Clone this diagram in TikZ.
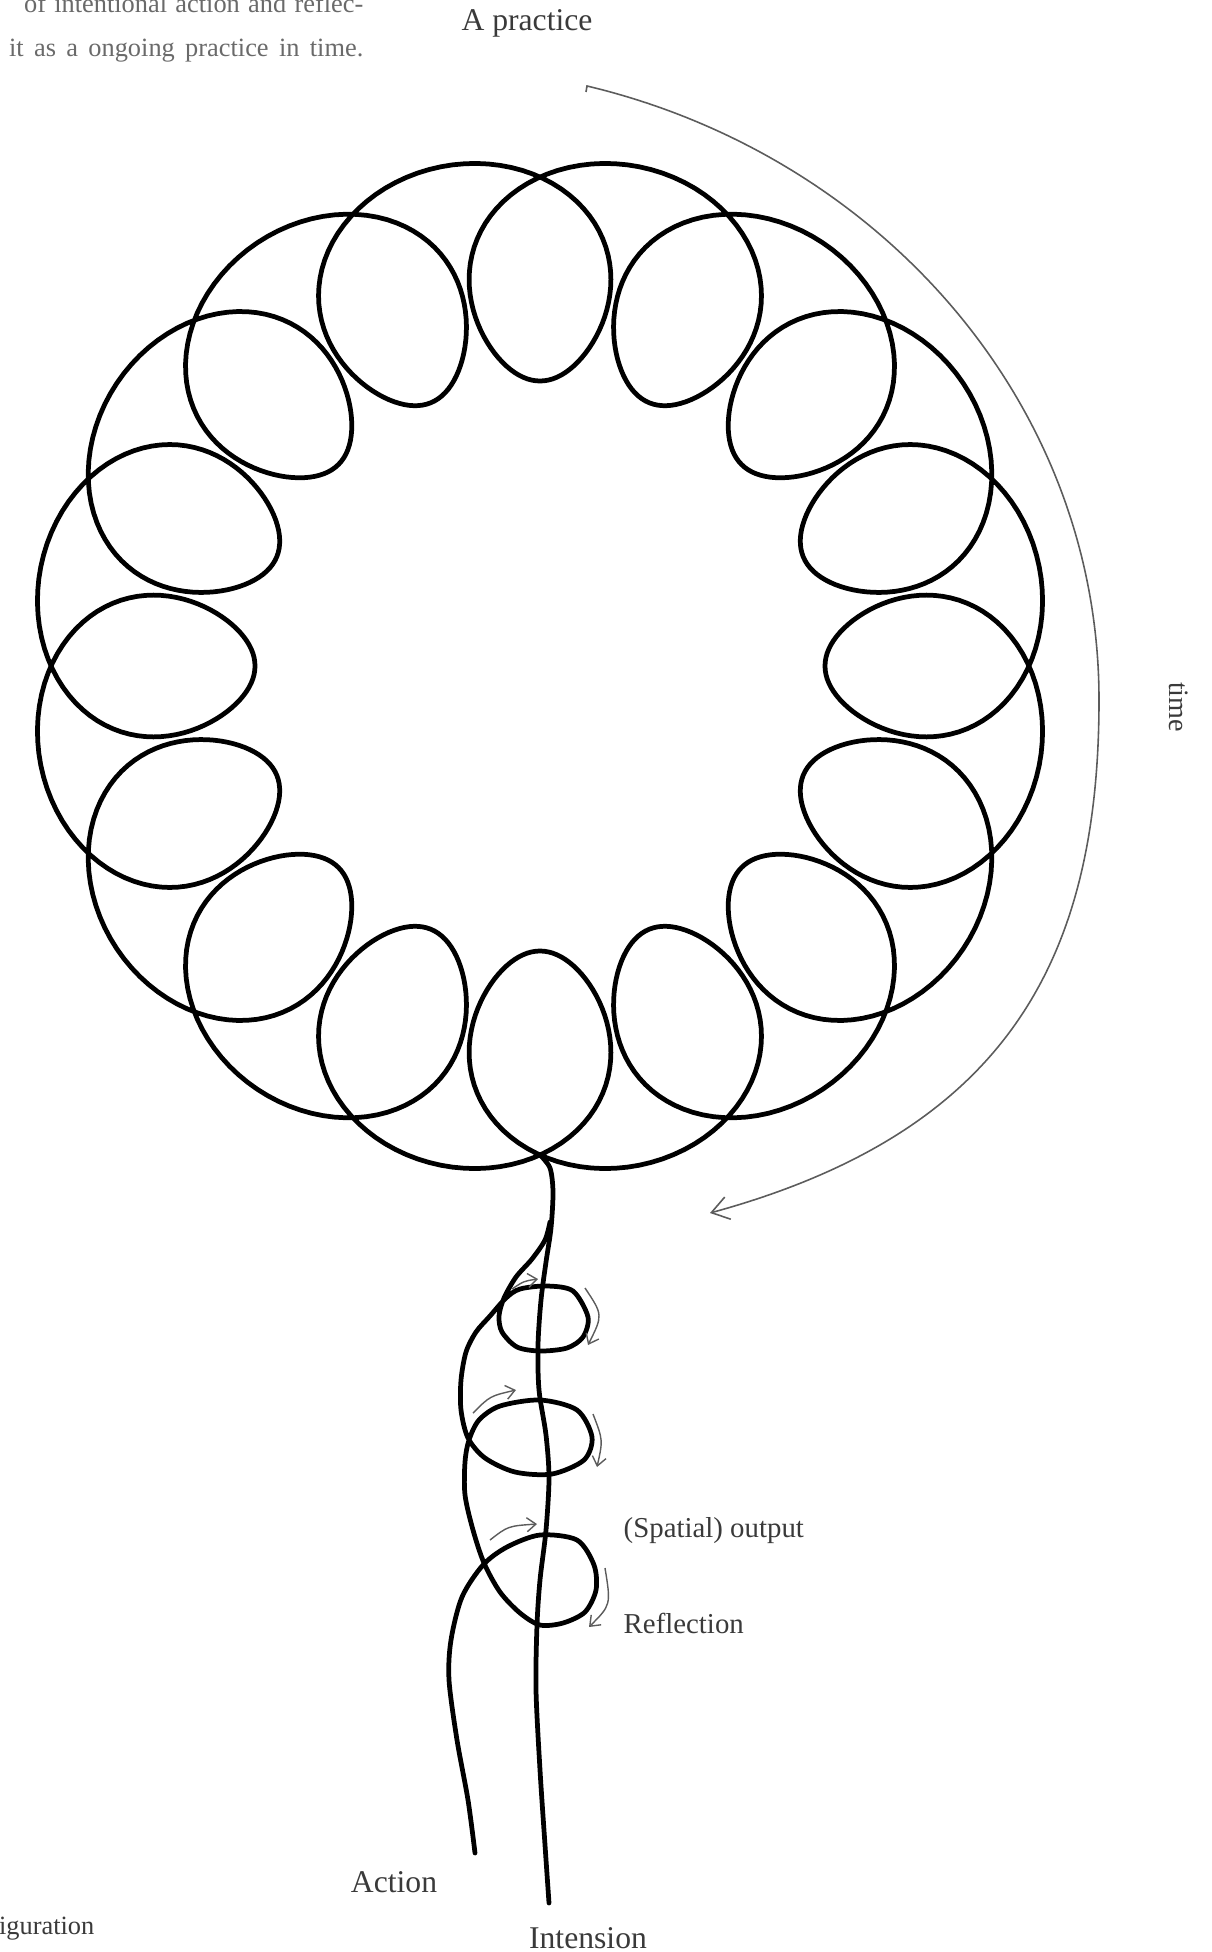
\documentclass[tikz,border=0pt]{standalone}
\usepackage{fontspec}
\setmainfont{Liberation Serif}
\usepackage{xcolor}
\usepackage{tikz}
\usetikzlibrary{arrows.meta}
\definecolor{inkgray}{HTML}{3A3A3A}
\definecolor{pengray}{HTML}{5C5C5C}
\definecolor{notegray}{HTML}{6A6A6A}

\begin{document}
\begin{tikzpicture}[x=0.01cm, y=-0.01cm,
    strand/.style={line width=1.35pt, line cap=round, line join=round},
    timearrow/.style={draw=pengray, line width=0.45pt, -{Straight Barb[length=1.7mm, width=2.3mm]}},
    cyclearrow/.style={draw=pengray, line width=0.4pt, -{Straight Barb[length=0.9mm, width=1.4mm]}},
    lbl/.style={font=\fontsize{9}{11}\selectfont, text=inkgray, inner sep=0pt},
    sidelbl/.style={font=\fontsize{8.2}{10}\selectfont, text=inkgray, inner sep=0pt},
    caption/.style={font=\fontsize{7.5}{9}\selectfont, text=notegray, inner sep=0pt},
]
    \useasboundingbox (0,0) rectangle (1211,1952);

    % running text of the page, cut by the figure frame
    \node[caption, anchor=base east] (notea) at (364,13) {\makebox[3.39cm][s]{of intentional action and reflec-}};
    \node[caption, anchor=base east] (noteb) at (364,57) {\makebox[3.54cm][s]{it as a ongoing practice in time.}};
    \node[caption, text=inkgray, anchor=base east] (config) at (95,1934) {Configuration};

    % the practice: one strand looping round sixteen times
    \draw[strand] plot[domain=0:360, samples=1441, variable=\t]
        ({540+(397-112*cos(16*\t))*sin(\t-15.9*sin(16*\t))},
         {666-(397-112*cos(16*\t))*cos(\t-15.9*sin(16*\t))}) -- cycle;
    \coordinate (knot) at (540,1155);
    \node[lbl, anchor=base] (practice) at (527,31) {A practice};

    % time
    \coordinate (timestart) at (586,92);
    \coordinate (timemid) at (1099,700);
    \coordinate (timeend) at (710,1213);
    \draw[timearrow] (timestart) -- ++(1,-6) .. controls (877,155) and (1099,400) .. (timemid)
        .. controls (1099,960) and (1006,1132) .. (timeend);
    \node[sidelbl, font=\fontsize{8}{10}\selectfont, rotate=-90] (timelbl) at (1179,707) {time};

    % intension
    \coordinate (intensionend) at (549,1903);
    \draw[strand] plot[smooth, tension=0.5] coordinates {(knot) (550,1168) (553,1192) (551,1228)
        (546,1262) (541,1300) (538,1345) (539,1390) (546,1435) (549,1478) (546,1530) (540,1580)
        (537,1625) (536,1690) (540,1770) (545,1845) (intensionend)};

    % action, coiling round the intension
    \coordinate (actionend) at (475,1853);
    \draw[strand] plot[smooth, tension=0.5] coordinates {(actionend) (468,1800) (457,1740)
        (449,1680) (451,1640) (462,1597) (483,1565) (507,1547) (540,1535) (577,1540) (594,1565)
        (596,1590) (585,1612) (563,1623) (540,1625) (520,1613) (500,1592) (484,1563) (473,1530)
        (465,1495) (465,1462) (469,1440) (479,1420) (500,1406) (540,1400) (577,1410) (592,1437)
        (584,1460) (552,1474) (515,1472) (485,1458) (468,1438) (461,1410) (461,1380) (466,1352)
        (476,1332) (490,1316) (506,1298) (520,1289) (547,1286) (573,1291) (588,1317) (583,1337)
        (567,1348) (540,1351) (517,1347) (502,1332) (499,1316) (504,1298) (516,1277) (532,1259)
        (545,1240) (550,1222)};

    % output and reflection, once per turn
    \foreach \sx/\sy/\cx/\cy/\ex/\ey in {
        512/1289/524/1281/538/1279, 473/1413/490/1396/516/1390, 490/1540/508/1526/537/1524,
        585/1288/603/1315/588/1345, 593/1414/603/1440/597/1467, 605/1568/611/1605/589/1627}
        \draw[cyclearrow] (\sx,\sy) .. controls (\cx,\cy) .. (\ex,\ey);

    \node[sidelbl, anchor=base west] (output) at (623,1537) {(Spatial) output};
    \node[sidelbl, anchor=base west] (reflection) at (623,1633) {Reflection};
    \node[lbl, anchor=base] (action) at (394,1892) {Action};
    \node[lbl, anchor=base] (intension) at (588,1948) {Intension};
\end{tikzpicture}
\end{document}
